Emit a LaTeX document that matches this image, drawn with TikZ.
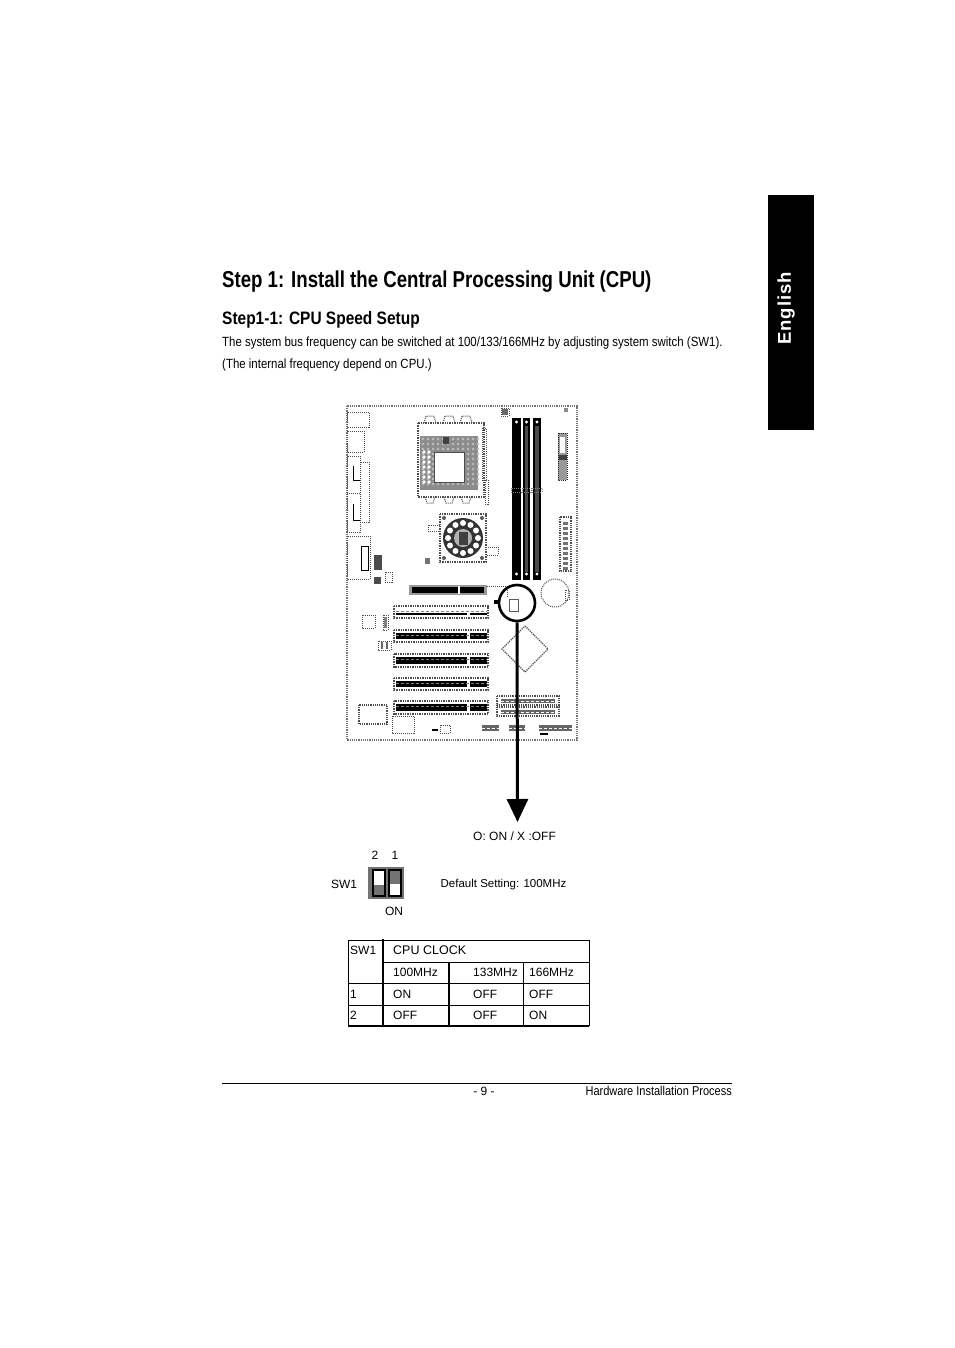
\documentclass[tikz,border=0pt]{standalone}
\usepackage{fontspec}
\setmainfont{Liberation Sans}
\newfontfamily\narrowfont[FakeStretch=0.86]{Liberation Sans}
\newfontfamily\titlefont[FakeStretch=0.81]{Liberation Sans}
\usetikzlibrary{arrows.meta}
\tikzset{
 txt/.style={inner sep=0, font=\fontsize{12}{14}\selectfont},
 cell/.style={txt, anchor=west},
 bodytxt/.style={inner sep=0, anchor=west, font=\narrowfont\fontsize{13.32}{15}\selectfont},
 part/.style={draw=black!70, densely dotted, line width=1},
 rule/.style={black, line width=1},
 heavy/.style={black, line width=1.6},
}
\begin{document}
\begin{tikzpicture}[x=1pt,y=-1pt]
\useasboundingbox[fill=white] (0,0) rectangle (954,1348);
% side tab
\fill[black] (768,195) rectangle (814,430);
\node[rotate=90, white, inner sep=0, font=\fontsize{18.5}{22}\bfseries\selectfont] (tablabel) at (786,308.5) {E\kern1pt n\kern1pt g\kern1pt l\kern1pt i\kern1pt s\kern1pt h};
% headings
\node[inner sep=0, anchor=west, font=\titlefont\fontsize{23}{26}\bfseries\selectfont] (title) at (222,281.5) {Step 1: Install the Central Processing Unit (CPU)};
\node[inner sep=0, anchor=west, font=\narrowfont\fontsize{18}{20}\bfseries\selectfont] (subtitle) at (222,319.5) {Step1-1: CPU Speed Setup};
\node[bodytxt] (bodya) at (222,343) {The system bus frequency can be switched at 100/133/166MHz by adjusting system switch (SW1).};
\node[bodytxt] (bodyb) at (222,365) {(The internal frequency depend on CPU.)};
% board
\draw[part, draw=black!55, line width=1.2] (347,406) rectangle (577,740);
\draw[part] (347,412) rectangle (369,427);
\draw[part] (347,431) rectangle (364,452);
\draw[part] (347,456) rectangle (360,532);
\draw[part] (347,493) -- (360,493);
\draw[part] (360,462) rectangle (369,522);
\draw[black, line width=.8] (353,466) -- (353,480) -- (360,480);
\draw[black, line width=.8] (353,504) -- (353,520) -- (360,520);
\draw[part] (347,536) rectangle (370,579);
\draw[black, line width=1] (361,546) rectangle (368,570);
\fill[black!70] (374,555) rectangle (382,570);
\draw[part] (385,572) rectangle (392,582);
\fill[black!70] (374,577) rectangle (381,584);
% cpu socket
\draw[part, line width=1.4] (418,423) rectangle (484,497);
\fill[black!45] (420,436) rectangle (478,490);
\foreach \y in {439,444,...,488} {
 \foreach \x in {423,428,...,478} {
  \fill[white!75!black] (\x,\y) circle (1.3);
 }
}
\foreach \y in {452,457,...,482} {
 \foreach \x in {424,429} {
  \fill[white] (\x,\y) circle (1.8);
 }
}
\fill[white] (434,452) rectangle (464,482);
\draw[black!70] (434,452) rectangle (464,482);
\fill[black!75] (443,437) rectangle (449,444);
\draw[part] (482,428) rectangle (486,480);
\draw[part] (485,480) rectangle (488,504);
\foreach \x in {430,449,466} {
 \draw[part] (\x-6,423) -- (\x-4,416) -- (\x+4,416) -- (\x+6,423);
 \draw[part] (\x-5,497) -- (\x-3,503) -- (\x+3,503) -- (\x+5,497);
}
% fan
\draw[part, line width=1.4] (440,514) rectangle (486,562);
\draw[part] (440,525) -- (428,525) -- (428,531) -- (440,531);
\draw[part] (486,547) -- (498,547) -- (498,555) -- (486,555);
\fill[black!80] (463,538) circle (20);
\foreach \a in {0,30,...,330} {
 \fill[white] (463,538) ++(\a:15) circle (3);
}
\fill[white!70!black] (463,538) circle (9);
\fill[black!75] (459,532) rectangle (468,545);
\foreach \p in {(444,518),(482,518),(444,558),(482,558)} {
 \fill[black!65] \p circle (2);
}
\fill[black!55] (425,558) rectangle (430,564);
% memory slots
\foreach \x/\w/\c in {512/9/black,523/7/black!70,533/8/black!70} {
 \fill[black] (\x,418) rectangle ++(\w,162);
 \fill[\c] (\x+2,426) rectangle ++(\w-4,146);
 \draw[part, draw=black!50] (\x-1,488) rectangle ++(\w+2,4);
 \fill[white] (\x+\w/2,422) circle (1.6);
 \fill[white] (\x+\w/2,574) circle (1.6);
}
\draw[part] (501,408) rectangle (509,416);
\fill[black!45] (564,408) rectangle (568,412);
\fill[black!60] (502,409) rectangle (508,415);
% power and floppy
\fill[black!40] (558,433) rectangle (567,480);
\draw[part, draw=black!85] (558,433) rectangle (567,480);
\fill[white] (560,437) rectangle (565,453);
\fill[black!75] (559,455) rectangle (567,460);
\draw[part, line width=1.2] (560,517) rectangle (571,571);
\foreach \y in {522,527,...,567} {
 \fill[black!55] (563,\y) rectangle ++(5,3);
}
% slots
\fill[black!40] (409,585) rectangle (487,595);
\fill[black] (412,587) rectangle (484,593);
\fill[white] (458,586) rectangle ++(2,8);
\foreach \y/\h/\c in {606/12/white,630/12/black,654/13/black,678/12/black,701/13/black} {
 \draw[part, line width=1.4] (394,\y) rectangle (488,\y+\h);
 \fill[\c] (396,\y+3) rectangle (467,\y+\h-3);
 \fill[\c] (470,\y+3) rectangle (487,\y+\h-3);
 \fill[black] (396,\y+\h/2+1) rectangle (467,\y+\h/2+3);
 \fill[black] (470,\y+\h/2+1) rectangle (487,\y+\h/2+3);
 \draw[black!50, densely dashed, line width=.7] (396,\y+\h/2-1) -- (487,\y+\h/2-1);
}
\draw[part] (487,586) -- (507,586) -- (507,598);
\fill[black] (494,600) rectangle (500,604);
\draw[black!65, line width=1] (509,599) rectangle (518,611);
\draw[part] (362,615) rectangle (375,628);
\draw[part] (383,615) rectangle (388,630);
\fill[black!50] (384,617) rectangle (387,628);
\draw[part] (378,641) rectangle (391,650);
\fill[black!60] (381,642) rectangle (383,649);
\fill[black!60] (386,642) rectangle (388,649);
\draw[part, line width=1.2] (359,705) rectangle (387,724);
\draw[part] (392,716) rectangle (414,733);
% battery and chipset
\draw[part, line width=1] (555,593) circle (14);
\draw[part] (565,590) rectangle (569,600);
\draw[part, line width=1.2] (525,626) -- (548,649) -- (525,672) -- (502,649) -- cycle;
% ide
\foreach \y in {696,707} {
 \draw[part, line width=1.2] (497,\y) rectangle (559,\y+9);
 \fill[black!60] (501,\y+3) rectangle (555,\y+7);
 \draw[white, densely dashed, line width=.7] (501,\y+5) -- (555,\y+5);
}
% bottom connectors
\fill[black] (432,729) rectangle (438,731);
\draw[part] (440,725) rectangle (450,733);
\foreach \x/\w in {482/17,509/16,539/33} {
 \fill[black!60] (\x,725) rectangle ++(\w,6);
 \draw[white, densely dashed, line width=.7] (\x,728) -- ++(\w,0);
}
\fill[black] (540,733) rectangle (548,735);
% marker and arrow
\node[draw=black, line width=2.6, circle, minimum size=36, inner sep=0] (marker) at (517,603) {};
\coordinate (arrowend) at (517.5,822);
\draw[black, line width=3, -{Triangle[width=21,length=23]}] (marker.south) -- (arrowend);
% switch
\node[txt] (onoff) at (514.5,836) {O: ON / X :OFF};
\node[txt] (dip2) at (375,855) {2};
\node[txt] (dip1) at (395,855) {1};
\node[txt] (swname) at (344,884) {SW1};
\node[txt] (dipon) at (394,911) {ON};
\node[txt, font=\fontsize{11.5}{14}\selectfont] (default) at (503.5,885) {Default Setting: 100MHz};
\fill[black!55] (368,867) rectangle (404,899);
\fill[white] (373,870) rectangle (385,896);
\fill[black!55] (373,885) rectangle (385,896);
\draw[black, line width=1.4] (373,870) rectangle (385,896);
\fill[white] (389,870) rectangle (401,896);
\fill[black!55] (389,870) rectangle (401,884);
\draw[black, line width=1.6] (389,870) rectangle (401,896);
% table
\draw[rule] (348,940) -- (589,940);
\draw[rule] (383,962) -- (589,962);
\draw[heavy] (348,983.5) -- (589,983.5);
\draw[rule] (348,1005) -- (589,1005);
\draw[heavy] (348,1026) -- (589,1026);
\draw[rule] (348,940) -- (348,1026);
\draw[heavy] (383,939) -- (383,1026);
\draw[heavy] (449,962) -- (449,1026);
\draw[rule] (523,962) -- (523,1026);
\draw[rule] (589,940) -- (589,1026);
\node[cell] (tsw) at (350,950) {SW1};
\node[cell, font=\fontsize{12.5}{14}\selectfont] (tclock) at (393,950) {CPU CLOCK};
\node[cell] (tfa) at (393,972) {100MHz};
\node[cell] (tfb) at (473,972) {133MHz};
\node[cell] (tfc) at (529,972) {166MHz};
\node[cell] (trowa) at (350,994) {1};
\node[cell] (taa) at (393,994) {ON};
\node[cell] (tab) at (473,994) {OFF};
\node[cell] (tac) at (529,994) {OFF};
\node[cell] (trowb) at (350,1015) {2};
\node[cell] (tba) at (393,1015) {OFF};
\node[cell] (tbb) at (473,1015) {OFF};
\node[cell] (tbc) at (529,1015) {ON};
% footer
\draw[black, line width=.8] (222,1083) -- (732,1083);
\node[txt] (pagenum) at (484,1091) {- 9 -};
\node[txt, anchor=east, font=\narrowfont\fontsize{12.8}{14}\selectfont] (section) at (732,1091) {Hardware Installation Process};
\end{tikzpicture}
\end{document}
